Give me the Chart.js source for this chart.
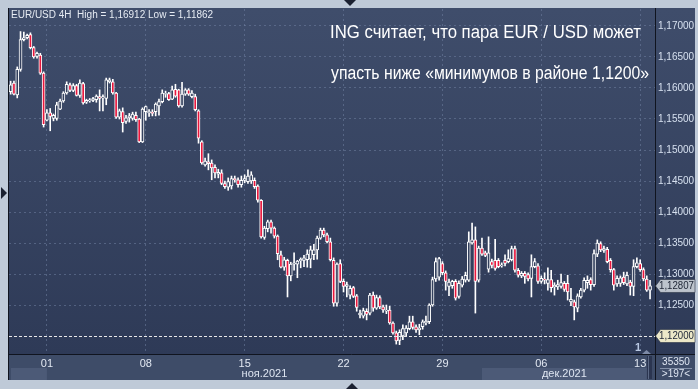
<!DOCTYPE html>
<html>
<head>
<meta charset="utf-8">
<title>EUR/USD 4H</title>
<script src="https://cdn.jsdelivr.net/npm/chart.js@4.4.1/dist/chart.umd.min.js"></script>
<style>
  html, body { margin: 0; padding: 0; background: #bfcad8; }
  #wrap { position: relative; width: 698px; height: 389px; }
</style>
</head>
<body>
<div id="wrap"><canvas id="chart" width="698" height="389"></canvas></div>
<script>
// EUR/USD 4H candles, 28 Oct - 13 Dec 2021
const opens = [
  1.1594,1.1608,1.1589,1.1630,1.1678,1.1681,1.1686,1.1665,1.1651,1.1653,
  1.1624,1.1548,1.1560,1.1551,1.1551,1.1566,1.1579,1.1592,1.1605,1.1596,
  1.1604,1.1588,1.1607,1.1577,1.1579,1.1580,1.1581,1.1586,1.1584,1.1583,
  1.1610,1.1610,1.1592,1.1553,1.1562,1.1546,1.1552,1.1551,1.1556,1.1550,
  1.1513,1.1562,1.1560,1.1561,1.1562,1.1571,1.1578,1.1590,1.1591,1.1582,
  1.1598,1.1597,1.1571,1.1590,1.1597,1.1586,1.1586,1.1563,1.1513,1.1476,
  1.1481,1.1479,1.1472,1.1461,1.1463,1.1446,1.1440,1.1442,1.1454,1.1452,
  1.1444,1.1451,1.1449,1.1450,1.1451,1.1442,1.1419,1.1359,1.1373,1.1384,
  1.1374,1.1361,1.1331,1.1311,1.1322,1.1297,1.1316,1.1316,1.1321,1.1322,
  1.1323,1.1324,1.1331,1.1339,1.1358,1.1371,1.1363,1.1352,1.1322,1.1253,
  1.1317,1.1288,1.1280,1.1266,1.1278,1.1265,1.1234,1.1232,1.1240,1.1237,
  1.1266,1.1245,1.1262,1.1247,1.1240,1.1242,1.1221,1.1205,1.1193,1.1200,
  1.1205,1.1212,1.1223,1.1215,1.1210,1.1215,1.1221,1.1223,1.1250,1.1292,
  1.1295,1.1317,1.1302,1.1280,1.1281,1.1288,1.1264,1.1282,1.1290,1.1290,
  1.1350,1.1355,1.1290,1.1342,1.1334,1.1308,1.1320,1.1322,1.1322,1.1313,
  1.1322,1.1320,1.1323,1.1341,1.1306,1.1297,1.1301,1.1299,1.1293,1.1312,
  1.1313,1.1288,1.1292,1.1285,1.1291,1.1279,1.1279,1.1280,1.1285,1.1285,
  1.1255,1.1255,1.1245,1.1263,1.1274,1.1286,1.1291,1.1283,1.1332,1.1349,
  1.1338,1.1340,1.1322,1.1307,1.1284,1.1285,1.1295,1.1284,1.1287,1.1280,
  1.1312,1.1317,1.1307,1.1292,1.1274
];
const highs = [
  1.1611,1.1611,1.1634,1.1691,1.1690,1.1687,1.1689,1.1667,1.1658,1.1656,
  1.1626,1.1565,1.1567,1.1558,1.1577,1.1582,1.1594,1.1610,1.1608,1.1607,
  1.1606,1.1613,1.1609,1.1582,1.1583,1.1585,1.1589,1.1597,1.1589,1.1616,
  1.1616,1.1614,1.1593,1.1566,1.1568,1.1556,1.1559,1.1561,1.1561,1.1551,
  1.1568,1.1571,1.1565,1.1565,1.1576,1.1582,1.1597,1.1595,1.1593,1.1603,
  1.1606,1.1598,1.1609,1.1599,1.1599,1.1596,1.1590,1.1565,1.1515,1.1487,
  1.1494,1.1484,1.1476,1.1469,1.1468,1.1450,1.1455,1.1458,1.1458,1.1455,
  1.1458,1.1460,1.1468,1.1465,1.1455,1.1444,1.1420,1.1377,1.1387,1.1387,
  1.1376,1.1363,1.1337,1.1327,1.1324,1.1319,1.1334,1.1322,1.1326,1.1330,
  1.1339,1.1345,1.1348,1.1361,1.1374,1.1374,1.1366,1.1358,1.1326,1.1318,
  1.1323,1.1292,1.1287,1.1281,1.1280,1.1267,1.1242,1.1245,1.1244,1.1269,
  1.1271,1.1266,1.1265,1.1250,1.1250,1.1248,1.1223,1.1208,1.1210,1.1218,
  1.1217,1.1232,1.1232,1.1218,1.1219,1.1226,1.1232,1.1252,1.1295,1.1326,
  1.1327,1.1320,1.1305,1.1292,1.1290,1.1291,1.1289,1.1296,1.1303,1.1368,
  1.1382,1.1376,1.1345,1.1358,1.1337,1.1360,1.1324,1.1356,1.1325,1.1318,
  1.1331,1.1339,1.1345,1.1345,1.1309,1.1304,1.1304,1.1302,1.1331,1.1325,
  1.1317,1.1297,1.1302,1.1310,1.1306,1.1286,1.1290,1.1300,1.1288,1.1298,
  1.1277,1.1258,1.1268,1.1277,1.1294,1.1297,1.1294,1.1339,1.1355,1.1352,
  1.1345,1.1343,1.1325,1.1309,1.1297,1.1297,1.1303,1.1303,1.1290,1.1323,
  1.1326,1.1323,1.1310,1.1297,1.1290
];
const lows = [
  1.1590,1.1589,1.1584,1.1627,1.1676,1.1679,1.1663,1.1648,1.1648,1.1622,
  1.1537,1.1547,1.1531,1.1547,1.1548,1.1565,1.1577,1.1590,1.1594,1.1594,
  1.1587,1.1585,1.1574,1.1575,1.1577,1.1578,1.1577,1.1563,1.1563,1.1573,
  1.1608,1.1590,1.1551,1.1550,1.1529,1.1543,1.1545,1.1548,1.1546,1.1512,
  1.1512,1.1548,1.1554,1.1555,1.1555,1.1556,1.1576,1.1585,1.1580,1.1581,
  1.1585,1.1569,1.1569,1.1588,1.1588,1.1584,1.1563,1.1511,1.1477,1.1474,
  1.1468,1.1452,1.1455,1.1455,1.1444,1.1438,1.1435,1.1437,1.1448,1.1440,
  1.1440,1.1447,1.1446,1.1446,1.1438,1.1416,1.1358,1.1356,1.1368,1.1366,
  1.1358,1.1323,1.1310,1.1306,1.1263,1.1289,1.1306,1.1294,1.1310,1.1312,
  1.1311,1.1310,1.1323,1.1324,1.1356,1.1360,1.1350,1.1321,1.1248,1.1248,
  1.1286,1.1271,1.1263,1.1260,1.1262,1.1240,1.1229,1.1229,1.1226,1.1234,
  1.1240,1.1243,1.1244,1.1238,1.1236,1.1219,1.1203,1.1187,1.1186,1.1194,
  1.1200,1.1210,1.1211,1.1206,1.1202,1.1211,1.1218,1.1220,1.1248,1.1288,
  1.1290,1.1299,1.1274,1.1265,1.1277,1.1258,1.1261,1.1279,1.1287,1.1288,
  1.1348,1.1237,1.1287,1.1330,1.1328,1.1303,1.1310,1.1306,1.1310,1.1311,
  1.1313,1.1318,1.1321,1.1303,1.1295,1.1294,1.1285,1.1289,1.1263,1.1310,
  1.1285,1.1285,1.1284,1.1274,1.1271,1.1266,1.1275,1.1277,1.1272,1.1258,
  1.1249,1.1226,1.1239,1.1261,1.1271,1.1277,1.1274,1.1280,1.1328,1.1336,
  1.1335,1.1318,1.1303,1.1274,1.1280,1.1280,1.1283,1.1281,1.1266,1.1265,
  1.1310,1.1304,1.1289,1.1272,1.1260
];
const closes = [
  1.1605,1.1590,1.1630,1.1678,1.1681,1.1685,1.1665,1.1650,1.1656,1.1624,
  1.1541,1.1560,1.1554,1.1556,1.1573,1.1579,1.1592,1.1606,1.1596,1.1604,
  1.1588,1.1608,1.1576,1.1580,1.1581,1.1583,1.1587,1.1583,1.1586,1.1613,
  1.1613,1.1592,1.1553,1.1563,1.1544,1.1552,1.1555,1.1558,1.1549,1.1513,
  1.1566,1.1570,1.1562,1.1559,1.1574,1.1578,1.1592,1.1591,1.1581,1.1597,
  1.1587,1.1571,1.1590,1.1597,1.1590,1.1592,1.1565,1.1519,1.1479,1.1482,
  1.1478,1.1471,1.1463,1.1464,1.1446,1.1441,1.1449,1.1454,1.1452,1.1444,
  1.1451,1.1454,1.1458,1.1460,1.1441,1.1419,1.1360,1.1374,1.1384,1.1374,
  1.1361,1.1333,1.1311,1.1323,1.1297,1.1316,1.1318,1.1321,1.1324,1.1326,
  1.1332,1.1339,1.1339,1.1358,1.1371,1.1363,1.1352,1.1323,1.1253,1.1316,
  1.1288,1.1280,1.1283,1.1277,1.1264,1.1246,1.1237,1.1241,1.1235,1.1266,
  1.1245,1.1262,1.1247,1.1242,1.1242,1.1221,1.1205,1.1192,1.1206,1.1212,
  1.1213,1.1223,1.1214,1.1210,1.1213,1.1223,1.1224,1.1250,1.1291,1.1320,
  1.1325,1.1302,1.1288,1.1287,1.1288,1.1261,1.1285,1.1292,1.1298,1.1352,
  1.1355,1.1288,1.1342,1.1332,1.1330,1.1334,1.1314,1.1309,1.1312,1.1315,
  1.1317,1.1325,1.1341,1.1306,1.1298,1.1301,1.1296,1.1292,1.1312,1.1320,
  1.1288,1.1293,1.1290,1.1291,1.1278,1.1282,1.1283,1.1286,1.1275,1.1271,
  1.1259,1.1247,1.1265,1.1274,1.1290,1.1290,1.1283,1.1333,1.1350,1.1339,
  1.1341,1.1320,1.1307,1.1282,1.1293,1.1294,1.1286,1.1298,1.1280,1.1312,
  1.1318,1.1307,1.1292,1.1274,1.1281
];

// x axis: one slot per candle + one empty slot on the right
const slotCount = 196;
const weekIdx = [11, 41, 71, 101, 131, 161, 191];
const weekLabels = ["01", "08", "15", "22", "29", "06", "13"];
const monthNames = ["ноя.2021", "дек.2021"];
const monthStart = [11, 143];   // Mon 1 Nov 00:00, Wed 1 Dec 00:00
const monthEnd = [143, 193];

// y axis
const yTicks = [1.12, 1.125, 1.13, 1.135, 1.14, 1.145, 1.15, 1.155, 1.16, 1.165, 1.17];
const yMin = 1.11710;
const yMax = 1.17274;
const lastPrice = 1.12807;
const levelPrice = 1.12;

const headerText = "EUR/USD 4H  High = 1,16912 Low = 1,11862";
const titleLines = ["ING считает, что пара EUR / USD может", "упасть ниже «минимумов в районе 1,1200»"];
const barsInfo = ["35350", ">197<"];

const FONT = "'Liberation Sans', Arial, sans-serif";
const gridColor = "rgba(112,128,160,0.55)";

const labels = Array.from({ length: slotCount }, (_, i) => String(i));
const wicks = lows.map((l, i) => [l, highs[i]]);
const bodies = opens.map((o, i) => [Math.min(o, closes[i]), Math.max(o, closes[i])]);
const bodyFill = opens.map((o, i) => closes[i] < o ? "#e8173d" : "#34415e");

function fmt(v) {
  return v.toFixed(5).replace(".", ",");
}

// price tag on the right axis
function drawTag(ctx, y, text, fill) {
  ctx.beginPath();
  ctx.moveTo(655.5, y);
  ctx.lineTo(660.5, y - 6.5);
  ctx.lineTo(695, y - 6.5);
  ctx.lineTo(695, y + 6.5);
  ctx.lineTo(660.5, y + 6.5);
  ctx.closePath();
  ctx.fillStyle = fill;
  ctx.fill();
  ctx.strokeStyle = "rgba(40,48,66,0.6)";
  ctx.lineWidth = 1;
  ctx.stroke();
  ctx.fillStyle = "#1d2535";
  ctx.font = "10px " + FONT;
  ctx.textAlign = "left";
  ctx.textBaseline = "middle";
  ctx.fillText(text, 659, y + 0.5, 35);
}

// right-aligned text squeezed to a given width
function fitText(ctx, text, right, y, width) {
  const w = ctx.measureText(text).width;
  const k = Math.min(1, width / w);
  ctx.save();
  ctx.translate(right, y);
  ctx.scale(k, 1);
  ctx.textAlign = "right";
  ctx.fillText(text, 0, 0);
  ctx.restore();
}

function tri(ctx, pts, color) {
  ctx.beginPath();
  ctx.moveTo(pts[0], pts[1]);
  ctx.lineTo(pts[2], pts[3]);
  ctx.lineTo(pts[4], pts[5]);
  ctx.closePath();
  ctx.fillStyle = color;
  ctx.fill();
}

const frame = {
  id: "frame",
  beforeDraw(chart) {
    const { ctx, chartArea: a, width, height } = chart;
    const xs = chart.scales.x;
    ctx.save();
    ctx.fillStyle = "#bfcad8";
    ctx.fillRect(0, 0, width, height);
    // plot + price panel
    const g = ctx.createLinearGradient(0, a.top, 0, a.bottom);
    g.addColorStop(0, "#3f4d6b");
    g.addColorStop(1, "#2e3a57");
    ctx.fillStyle = g;
    ctx.fillRect(8, 8, 687, a.bottom - 8);
    // time strip
    ctx.fillStyle = "#3e4c68";
    ctx.fillRect(8, a.bottom, 687, 26);
    // month bands (oct and dec lighter)
    ctx.fillStyle = "#4c5a77";
    ctx.fillRect(a.left + 2, a.bottom + 14, xs.getPixelForValue(monthStart[0]) - a.left - 2, 12);
    const decL = xs.getPixelForValue(monthStart[1]);
    ctx.fillRect(decL, a.bottom + 14, xs.getPixelForValue(monthEnd[1]) - decL, 12);
    // small scroll handle
    ctx.fillStyle = "#2b3550";
    ctx.fillRect(647, a.bottom + 2, 5, 23);
    ctx.fillStyle = "#5b6884";
    ctx.fillRect(648, a.bottom + 2, 1, 23);
    ctx.restore();
  },
  afterDatasetsDraw(chart) {
    const { ctx, chartArea: a } = chart;
    const y = Math.round(chart.scales.y.getPixelForValue(levelPrice)) + 0.5;
    ctx.save();
    ctx.strokeStyle = "#e8e8e8";
    ctx.lineWidth = 1;
    ctx.setLineDash([3, 2]);
    ctx.beginPath();
    ctx.moveTo(a.left, y);
    ctx.lineTo(a.right, y);
    ctx.stroke();
    ctx.restore();
  },
  afterDraw(chart) {
    const { ctx, chartArea: a } = chart;
    const xs = chart.scales.x;
    const ys = chart.scales.y;
    ctx.save();
    // panel separators
    ctx.strokeStyle = "#10141f";
    ctx.lineWidth = 1;
    ctx.beginPath();
    ctx.moveTo(a.right + 0.5, 8);
    ctx.lineTo(a.right + 0.5, a.bottom + 26);
    ctx.moveTo(8, a.bottom + 0.5);
    ctx.lineTo(695, a.bottom + 0.5);
    ctx.moveTo(8.5, 8);
    ctx.lineTo(8.5, a.bottom + 26);
    ctx.stroke();
    ctx.strokeStyle = "#8390a8";
    ctx.beginPath();
    ctx.moveTo(660, a.bottom + 14.5);
    ctx.lineTo(692, a.bottom + 14.5);
    ctx.stroke();

    // month names
    ctx.fillStyle = "#dfe6f2";
    ctx.font = "11px " + FONT;
    ctx.textAlign = "center";
    ctx.textBaseline = "middle";
    monthNames.forEach((m, k) => {
      const x0 = xs.getPixelForValue(monthStart[k]);
      const x1 = xs.getPixelForValue(monthEnd[k]);
      ctx.fillText(m, (x0 + x1) / 2, a.bottom + 20);
    });
    // bars info box
    ctx.font = "10px " + FONT;
    ctx.fillText(barsInfo[0], 676, a.bottom + 8);
    ctx.fillText(barsInfo[1], 676, a.bottom + 20);

    // price tags
    drawTag(ctx, ys.getPixelForValue(lastPrice), fmt(lastPrice), "#bcc3cc");
    drawTag(ctx, ys.getPixelForValue(levelPrice), fmt(levelPrice), "#ece8c8");

    // header
    ctx.fillStyle = "#e6ebf3";
    ctx.font = "10px " + FONT;
    ctx.textAlign = "left";
    ctx.textBaseline = "middle";
    ctx.fillText(headerText, 11, 15);

    // title
    ctx.fillStyle = "#ffffff";
    ctx.font = "18px " + FONT;
    ctx.textBaseline = "middle";
    fitText(ctx, titleLines[0], 641, 33, 311);
    fitText(ctx, titleLines[1], 649, 74, 318);

    // "1" marker
    ctx.fillStyle = "#b9c8e2";
    ctx.font = "bold 11px " + FONT;
    ctx.textAlign = "center";
    ctx.fillText("1", 638, a.bottom - 6);
    tri(ctx, [642, a.bottom, 651, a.bottom, 646.5, a.bottom - 4], "#7d8aa6");

    // scroll arrows on the frame
    tri(ctx, [1, 187, 7, 193, 1, 199], "#1b2131");
    tri(ctx, [344, 0, 356, 0, 350, 6], "#1b2131");
    tri(ctx, [346, 389, 358, 389, 352, 383], "#1b2131");
    ctx.restore();
  }
};

new Chart(document.getElementById("chart"), {
  type: "bar",
  data: {
    labels: labels,
    datasets: [
      {
        label: "body",
        data: bodies,
        backgroundColor: bodyFill,
        borderColor: "#ffffff",
        borderWidth: 1,
        borderSkipped: false,
        barThickness: 3,
        grouped: false,
        order: 0
      },
      {
        label: "wick",
        data: wicks,
        backgroundColor: "#ffffff",
        barThickness: 1,
        grouped: false,
        order: 1
      }
    ]
  },
  options: {
    responsive: false,
    animation: false,
    devicePixelRatio: 1,
    layout: { padding: { left: 9, top: 9, right: 3, bottom: 9 } },
    plugins: { legend: { display: false }, tooltip: { enabled: false } },
    scales: {
      x: {
        offset: true,
        grid: {
          offset: false,
          drawTicks: false,
          color: (c) => weekIdx.includes(c.index) ? gridColor : "rgba(0,0,0,0)"
        },
        border: { display: false, dash: [2, 3] },
        ticks: {
          autoSkip: false,
          maxRotation: 0,
          padding: 3,
          color: "#e2e8f2",
          font: { family: FONT, size: 11 },
          callback: (v, i) => {
            const k = weekIdx.indexOf(i);
            return k >= 0 ? weekLabels[k] : "";
          }
        },
        afterFit: (s) => { s.height = 26; }
      },
      y: {
        position: "right",
        min: yMin,
        max: yMax,
        afterBuildTicks: (s) => { s.ticks = yTicks.map(v => ({ value: v })); },
        grid: { color: gridColor, drawTicks: false },
        border: { display: false, dash: [2, 3] },
        ticks: {
          padding: 3,
          color: "#d6e0ef",
          font: { family: FONT, size: 10 },
          callback: (v) => fmt(v)
        },
        afterFit: (s) => { s.width = 40; }
      }
    }
  },
  plugins: [frame]
});
</script>
</body>
</html>
